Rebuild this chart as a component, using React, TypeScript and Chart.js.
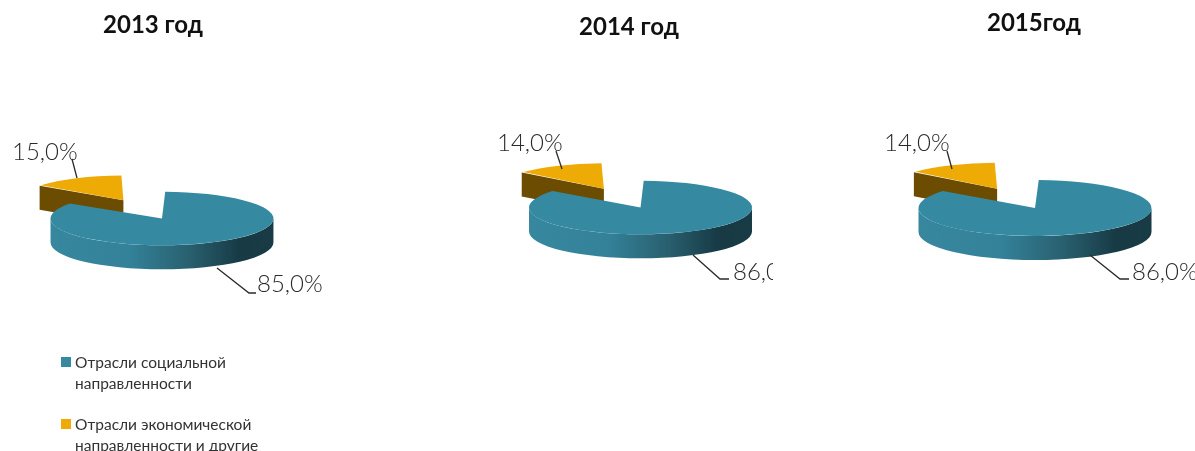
import React, { useEffect, useRef } from "react";
import { Chart, registerables } from "chart.js";

Chart.register(...registerables);

const years = ["2013 год", "2014 год", "2015год"];
const categories = ["Отрасли социальной направленности", "Отрасли экономической направленности и другие"];
const socialShare = [85, 86, 86];
const economicShare = [15, 14, 14];

const TEAL = "#358aa2";
const YELLOW = "#efab05";
const SQUASH = 0.24;
const DEPTH = 24;
const FONT = "Lato, 'Open Sans', sans-serif";

const layouts = [
  { left: 0, width: 340, cx: 152.8, cy: 214.2, radius: 91.2, off: [81, 259],
    title: [153, 33], small: [12, 160], large: [257, 292],
    smallLine: [[72, 159], [77, 178]], largeLine: [[217, 268], [249, 293], [256, 293]] },
  { left: 450, width: 323, cx: 632, cy: 203.2, radius: 91.5, off: [80, 264],
    title: [629, 35], small: [497, 151], large: [733, 280],
    smallLine: [[556, 151], [562, 169]], largeLine: [[693, 255], [720, 279], [729, 279]] },
  { left: 860, width: 335, cx: 1025, cy: 202.9, radius: 93, off: [94, 262],
    title: [1034, 31], small: [884, 151], large: [1132, 280],
    smallLine: [[947, 151], [952, 169]], largeLine: [[1090, 255], [1120, 279], [1129, 279]] },
];

const pct = (v: number) => v.toFixed(1).replace(".", ",") + "%";

function arcGeom(el: any) {
  const p = el.getProps(["x", "y", "startAngle", "endAngle", "outerRadius"], true);
  const d = (el.options.offset || 0) / 4;
  const mid = (p.startAngle + p.endAngle) / 2;
  const circ = p.endAngle - p.startAngle;
  const fix = 1 - Math.sin(Math.min(Math.PI, circ));
  return {
    x: p.x + Math.cos(mid) * d,
    y: p.y + Math.sin(mid) * d,
    r: p.outerRadius + d * fix,
    start: p.startAngle,
    end: p.endAngle,
  };
}

function makePlugin(index: number) {
  const lay = layouts[index];
  return {
    id: "pie3d" + index,
    beforeDatasetsDraw(chart: any) {
      const ctx = chart.ctx;
      const meta = chart.getDatasetMeta(0);
      const el = meta.data[0];
      const depth = DEPTH / SQUASH;
      ctx.save();
      ctx.translate(0, el.y);
      ctx.scale(1, SQUASH);
      ctx.translate(0, -el.y);

      // yellow slice: radial cut wall
      const y = arcGeom(meta.data[1]);
      const cornerX = y.x + Math.cos(y.start) * y.r;
      const cornerY = y.y + Math.sin(y.start) * y.r;
      ctx.fillStyle = "#6b4c00";
      ctx.beginPath();
      ctx.moveTo(y.x, y.y);
      ctx.lineTo(cornerX, cornerY);
      ctx.lineTo(cornerX, cornerY + depth);
      ctx.lineTo(y.x, y.y + depth);
      ctx.closePath();
      ctx.fill();

      // teal slice: outer wall
      const t = arcGeom(el);
      const grad = ctx.createLinearGradient(t.x - t.r, 0, t.x + t.r, 0);
      grad.addColorStop(0, "#37879e");
      grad.addColorStop(0.35, "#33829a");
      grad.addColorStop(0.62, "#29606f");
      grad.addColorStop(0.85, "#173a45");
      grad.addColorStop(1, "#183b46");
      ctx.fillStyle = grad;
      ctx.beginPath();
      ctx.arc(t.x, t.y, t.r, 0, Math.PI, false);
      ctx.lineTo(t.x - t.r, t.y + depth);
      ctx.arc(t.x, t.y + depth, t.r, Math.PI, 0, true);
      ctx.closePath();
      ctx.fill();
    },
    afterDatasetsDraw(chart: any) {
      const ctx = chart.ctx;
      ctx.restore();

      ctx.save();
      ctx.translate(-lay.left, 0);
      ctx.strokeStyle = "#2b2b2b";
      ctx.lineWidth = 1.3;
      for (const line of [lay.smallLine, lay.largeLine]) {
        ctx.beginPath();
        line.forEach(([px, py], i) => (i ? ctx.lineTo(px, py) : ctx.moveTo(px, py)));
        ctx.stroke();
      }
      ctx.fillStyle = "#2a2a2a";
      ctx.textAlign = "left";
      ctx.textBaseline = "alphabetic";
      ctx.font = `300 24px ${FONT}`;
      const data = chart.data.datasets[0].data;
      ctx.fillText(pct(data[1]), lay.small[0], lay.small[1]);
      ctx.fillText(pct(data[0]), lay.large[0], lay.large[1]);
      ctx.fillStyle = "#111";
      ctx.textAlign = "center";
      ctx.font = `bold 24px ${FONT}`;
      ctx.fillText(years[index], lay.title[0], lay.title[1]);
      ctx.restore();
    },
  };
}

function Pie({ index }: { index: number }) {
  const ref = useRef<HTMLCanvasElement>(null);
  const lay = layouts[index];
  useEffect(() => {
    const localCx = lay.cx - lay.left;
    const chart = new Chart(ref.current as HTMLCanvasElement, {
      type: "pie",
      data: {
        labels: categories,
        datasets: [
          {
            data: [socialShare[index], economicShare[index]],
            backgroundColor: [TEAL, YELLOW],
            borderWidth: 0,
            offset: lay.off,
            clip: false,
          } as any,
        ],
      },
      options: {
        animation: false,
        responsive: false,
        radius: lay.radius,
        layout: {
          padding: {
            left: Math.max(0, 2 * localCx - lay.width),
            right: Math.max(0, lay.width - 2 * localCx),
            top: Math.max(0, 2 * lay.cy - 451),
            bottom: Math.max(0, 451 - 2 * lay.cy),
          },
        },
        plugins: { legend: { display: false }, tooltip: { enabled: false }, title: { display: false } },
      } as any,
      plugins: [makePlugin(index)],
    });
    return () => chart.destroy();
  }, []);
  return (
    <canvas
      ref={ref}
      width={lay.width}
      height={451}
      style={{ position: "absolute", left: lay.left, top: 0, width: lay.width, height: 451 }}
    />
  );
}

const legendLines = [
  { color: TEAL, top: 352, lines: ["Отрасли социальной", "направленности"] },
  { color: YELLOW, top: 414, lines: ["Отрасли экономической", "направленности и другие"] },
];

export default function App() {
  return (
    <div style={{ position: "fixed", left: 0, top: 0, width: 1195, height: 451, background: "#fff", overflow: "hidden" }}>
      {years.map((_, i) => (
        <Pie key={i} index={i} />
      ))}
      {legendLines.map((l) => (
        <div key={l.top} style={{ position: "absolute", left: 61, top: l.top, fontFamily: FONT, fontSize: 15.5, lineHeight: "21px", color: "#333" }}>
          <span style={{ position: "absolute", left: 0, top: 5, width: 9.5, height: 9.5, background: l.color }} />
          <div style={{ marginLeft: 14, whiteSpace: "nowrap" }}>
            {l.lines.map((t) => (
              <div key={t}>{t}</div>
            ))}
          </div>
        </div>
      ))}
    </div>
  );
}
